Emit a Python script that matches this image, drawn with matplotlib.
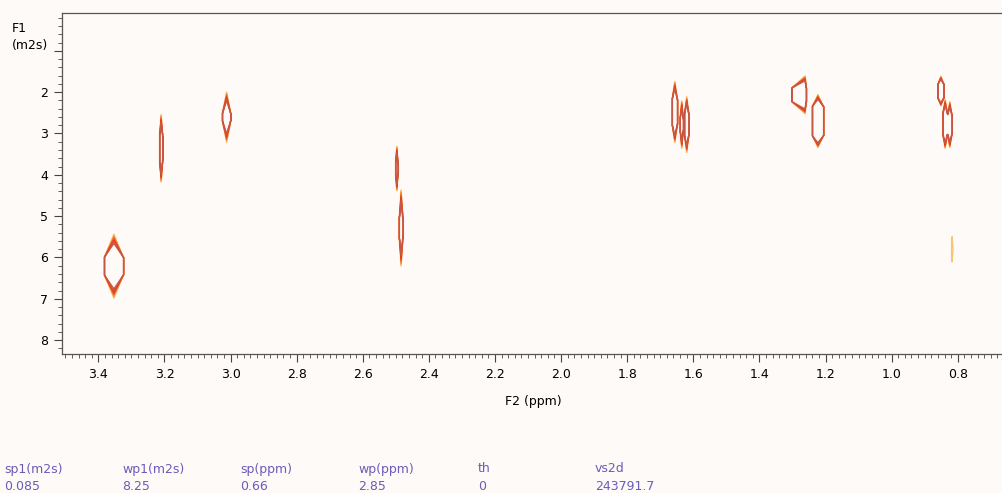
import numpy as np
import matplotlib.pyplot as plt
from matplotlib.ticker import MultipleLocator, FixedLocator

# DOSY cross peaks
# F2 centre (ppm), half width to the left / right (ppm), F1 top / bottom (m2s)
peak_f2 = [3.353, 3.210, 3.012, 2.497, 2.484, 1.656, 1.635, 1.620, 1.262, 1.223, 0.851, 0.838, 0.824, 0.817]
peak_hw_left = [0.029, 0.005, 0.013, 0.004, 0.006, 0.008, 0.005, 0.007, 0.040, 0.017, 0.009, 0.007, 0.007, 0.002]
peak_hw_right = [0.029, 0.005, 0.013, 0.004, 0.006, 0.008, 0.005, 0.007, 0.004, 0.017, 0.009, 0.007, 0.007, 0.002]
peak_f1_top = [5.42, 2.53, 1.98, 3.30, 4.35, 1.73, 2.20, 2.10, 1.60, 2.05, 1.61, 2.17, 2.22, 5.45]
peak_f1_bottom = [7.00, 4.19, 3.23, 4.40, 6.22, 3.23, 3.37, 3.47, 2.53, 3.35, 2.34, 3.37, 3.35, 6.15]
peak_taper = [0.58, 0.55, 0.55, 0.45, 0.75, 0.45, 0.45, 0.45, 0.30, 0.30, 0.20, 0.35, 0.35, 0.30]
peak_height = [1.0, 1.0, 1.0, 1.0, 1.0, 1.0, 1.0, 1.0, 1.0, 1.0, 1.0, 1.0, 1.0, 0.15]

# display parameters printed under the plot
param_names = ['sp1(m2s)', 'wp1(m2s)', 'sp(ppm)', 'wp(ppm)', 'th', 'vs2d']
param_values = ['0.085', '8.25', '0.66', '2.85', '0', '243791.7']

sp1, wp1 = 0.085, 8.25
sp, wp = 0.66, 2.85

levels = [0.05, 0.22, 0.4, 0.58, 0.76, 0.93]
level_colors = ['#f6c472', '#f2923f', '#ec5e2a', '#e43a1e', '#d0503a', '#c65848']
tip_spread = 0.45

xg = np.arange(sp, sp + wp + 0.001, 0.001)
yg = np.arange(0.0, 8.6, 0.01)
X, Y = np.meshgrid(xg, yg)
Z = np.zeros_like(X)
for x0, wl, wr, y0, y1, tp, h in zip(peak_f2, peak_hw_left, peak_hw_right,
                                     peak_f1_top, peak_f1_bottom, peak_taper, peak_height):
    u = np.abs(X - x0) / np.where(X > x0, wl, wr)
    # depth into the tapered end (0 in the straight middle part)
    t = np.maximum.reduce([(y0 + tp) - Y, Y - (y1 - tp), np.zeros_like(Y)])
    with np.errstate(divide='ignore', invalid='ignore'):
        d = np.where(u < 1, t / (1 - u), np.inf) / tp
    z = h * np.clip((1 - d) / tip_spread, 0, 1)
    Z = np.maximum(Z, z)

bg = '#fdfaf8'
fig = plt.figure(figsize=(10.02, 4.93), dpi=100, facecolor=bg)
ax = fig.add_axes([62 / 1002, 1 - 354 / 493, 942 / 1002, 341 / 493])
ax.set_facecolor(bg)

ax.contour(X, Y, Z, levels=levels, colors=level_colors, linewidths=0.9)

ax.set_xlim(sp + wp, sp)
ax.set_ylim(sp1 + wp1, sp1)

xmajor = np.round(np.arange(0.8, 3.5, 0.2), 1)
ax.xaxis.set_major_locator(FixedLocator(xmajor))
ax.xaxis.set_minor_locator(MultipleLocator(0.02))
ax.yaxis.set_major_locator(FixedLocator(range(1, 9)))
ax.yaxis.set_minor_locator(MultipleLocator(0.2))
ax.set_yticklabels([''] + [str(i) for i in range(2, 9)])
ax.set_xticklabels(['%.1f' % v for v in xmajor])

ax.tick_params(which='major', length=6, width=0.8, color='#444444', labelsize=9, pad=4)
ax.tick_params(which='minor', length=3, width=0.6, color='#444444')
for s in ['top', 'left', 'bottom']:
    ax.spines[s].set_color('#555555')
    ax.spines[s].set_linewidth(0.9)
ax.spines['right'].set_visible(False)

ax.set_xlabel('F2 (ppm)', fontsize=9, labelpad=10)
fig.text(12 / 1002, 1 - 28 / 493, 'F1', fontsize=9, ha='left', va='center')
fig.text(12 / 1002, 1 - 45 / 493, '(m2s)', fontsize=9, ha='left', va='center')

col_x = [4, 122, 240, 358, 478, 595]
for px, name, val in zip(col_x, param_names, param_values):
    fig.text(px / 1002, 1 - 469 / 493, name, fontsize=9, color='#6a5cb8', ha='left', va='center')
    fig.text(px / 1002, 1 - 487 / 493, val, fontsize=9, color='#6a5cb8', ha='left', va='center')

fig.savefig('out.png', dpi=100, facecolor=bg)
